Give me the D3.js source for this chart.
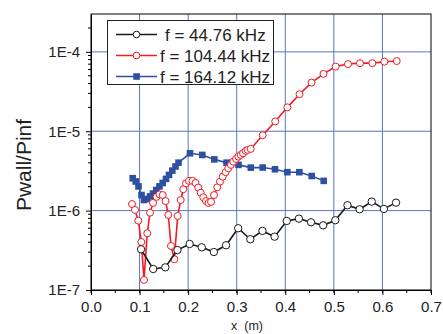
<!DOCTYPE html>
<html>
<head>
<meta charset="utf-8">
<script src="https://cdn.jsdelivr.net/npm/d3@7"></script>
<style>
  html, body { margin: 0; padding: 0; background: #fff; }
  svg { display: block; font-family: "Liberation Sans", Arial, sans-serif; }
</style>
</head>
<body>
<svg id="chart" width="443" height="334"></svg>
<script>
// ---- Data ----
const seriesNames = ["f = 44.76 kHz", "f = 104.44 kHz", "f = 164.12 kHz"];

const xBlack = [0.103, 0.128, 0.153, 0.178, 0.203, 0.228, 0.253, 0.278, 0.303, 0.328, 0.353,
  0.378, 0.403, 0.428, 0.453, 0.478, 0.503, 0.528, 0.553, 0.578, 0.603, 0.628];
const yBlack = [3.26e-7, 1.84e-7, 1.93e-7, 3.19e-7, 3.80e-7, 3.45e-7, 3.01e-7, 3.66e-7, 6.0e-7, 4.36e-7, 5.55e-7,
  4.70e-7, 7.41e-7, 7.92e-7, 7.13e-7, 6.53e-7, 7.57e-7, 1.17e-6, 1.04e-6, 1.30e-6, 1.05e-6, 1.26e-6];

const xRed = [0.0844, 0.0906, 0.0974, 0.1036, 0.1091, 0.1159, 0.1215, 0.1277, 0.1349, 0.1410, 0.1476,
  0.1534, 0.1592, 0.1647, 0.1715, 0.1785, 0.1847, 0.1900, 0.1956, 0.2018, 0.2090, 0.2152, 0.2209,
  0.2259, 0.2312, 0.2368, 0.2419, 0.2471, 0.2532, 0.2600, 0.2656, 0.2712, 0.2773, 0.2827, 0.2882,
  0.2930, 0.2985, 0.3033, 0.3082, 0.3130, 0.3185, 0.3226, 0.3288, 0.3535, 0.3793, 0.4042, 0.4293,
  0.4540, 0.4787, 0.5038, 0.5291, 0.5538, 0.5792, 0.6039, 0.6294];
const yRed = [1.21e-6, 1.02e-6, 7.47e-7, 4.03e-7, 1.34e-7, 5.19e-7, 9.42e-7, 1.25e-6, 1.49e-6, 1.60e-6, 1.57e-6,
  1.32e-6, 8.81e-7, 3.59e-7, 2.44e-7, 8.57e-7, 1.36e-6, 1.86e-6, 2.21e-6, 2.37e-6, 2.37e-6, 2.23e-6, 1.95e-6,
  1.68e-6, 1.47e-6, 1.32e-6, 1.25e-6, 1.29e-6, 1.57e-6, 1.97e-6, 2.32e-6, 2.68e-6, 3.05e-6, 3.42e-6, 3.77e-6,
  4.14e-6, 4.48e-6, 4.79e-6, 5.03e-6, 5.28e-6, 5.65e-6, 5.82e-6, 5.99e-6, 8.91e-6, 1.33e-5, 2.0e-5, 2.93e-5,
  4.10e-5, 5.28e-5, 6.53e-5, 7.02e-5, 7.21e-5, 7.21e-5, 7.52e-5, 7.66e-5];

const xBlue = [0.0859, 0.0920, 0.0978, 0.1040, 0.1091, 0.1153, 0.1215, 0.1277, 0.1344, 0.1410, 0.1476,
  0.1544, 0.1606, 0.1674, 0.1740, 0.1802, 0.2038, 0.2292, 0.2539, 0.2790, 0.3037, 0.3290, 0.3535,
  0.3788, 0.4042, 0.4289, 0.4544, 0.4791];
const yBlue = [2.56e-6, 2.33e-6, 2.02e-6, 1.57e-6, 1.36e-6, 1.40e-6, 1.51e-6, 1.64e-6, 1.82e-6, 2.02e-6, 2.23e-6,
  2.51e-6, 2.82e-6, 3.19e-6, 3.60e-6, 4.02e-6, 5.28e-6, 5.03e-6, 4.42e-6, 4.02e-6, 3.77e-6, 3.48e-6, 3.49e-6,
  3.32e-6, 3.05e-6, 3.05e-6, 2.73e-6, 2.37e-6];

const xTicks = [0.0, 0.1, 0.2, 0.3, 0.4, 0.5, 0.6, 0.7];
const xTickLabels = ["0.0", "0.1", "0.2", "0.3", "0.4", "0.5", "0.6", "0.7"];
const yTicks = [1e-7, 1e-6, 1e-5, 1e-4];
const yTickLabels = ["1E-7", "1E-6", "1E-5", "1E-4"];

// ---- Layout ----
const svg = d3.select("#chart");
const L = 91, R = 431, T = 14, B = 290;
const x = d3.scaleLinear().domain([0, 0.7]).range([L, R]);
const y = d3.scaleLog().domain([1e-7, 3e-4]).range([B, T]);

const gridColor = "#5a74c2";
const colBlack = "#1a1a1a", colRed = "#ee1c24", colBlue = "#2f4fa2";

// grid
svg.append("g").selectAll("line.gx").data(xTicks.slice(1, -1)).join("line")
  .attr("x1", d => x(d)).attr("x2", d => x(d)).attr("y1", T).attr("y2", B)
  .attr("stroke", gridColor).attr("stroke-width", 1);
svg.append("g").selectAll("line.gy").data(yTicks.slice(1)).join("line")
  .attr("x1", L).attr("x2", R).attr("y1", d => y(d)).attr("y2", d => y(d))
  .attr("stroke", gridColor).attr("stroke-width", 1);

// axes
const xMinor = d3.range(0, 0.7001, 0.05);
const xAxis = d3.axisBottom(x).tickValues(xTicks).tickFormat((d, i) => xTickLabels[i]).tickSize(5).tickSizeOuter(0);
const gx = svg.append("g").attr("transform", `translate(0,${B})`).call(xAxis);
gx.selectAll("text").attr("font-size", 15).attr("fill", "#222").attr("dy", "0.95em");
gx.append("g").selectAll("line").data(xMinor).join("line")
  .attr("x1", d => x(d)).attr("x2", d => x(d)).attr("y1", 0).attr("y2", 3).attr("stroke", "#000");

const yMinor = [];
[1e-7, 1e-6, 1e-5, 1e-4].forEach(dec => { for (let k = 2; k <= 9; k++) { const v = dec * k; if (v <= 3e-4) yMinor.push(v); } });
const yAxis = d3.axisLeft(y).tickValues(yTicks).tickFormat((d, i) => yTickLabels[i]).tickSize(5).tickSizeOuter(0);
const gy = svg.append("g").attr("transform", `translate(${L},0)`).call(yAxis);
gy.selectAll("text").attr("font-size", 15).attr("fill", "#222").attr("x", -11);
gy.append("g").selectAll("line").data(yMinor).join("line")
  .attr("x1", -3).attr("x2", 0).attr("y1", d => y(d)).attr("y2", d => y(d)).attr("stroke", "#000");
svg.selectAll(".domain").attr("stroke", "#000");

// frame
svg.append("rect").attr("x", L).attr("y", T).attr("width", R - L).attr("height", B - T)
  .attr("fill", "none").attr("stroke", "#000").attr("stroke-width", 1);

// axis titles
svg.append("text").attr("transform", `translate(31,165) rotate(-90)`).attr("text-anchor", "middle")
  .attr("font-size", 21).attr("fill", "#222").text("Pwall/Pinf");
svg.append("text").attr("x", 247).attr("y", 330).attr("text-anchor", "middle")
  .attr("font-size", 12.5).attr("fill", "#222").attr("xml:space", "preserve").text("x  (m)");

// series
const line = d3.line().x(d => x(d[0])).y(d => y(d[1]));
const blueData = d3.zip(xBlue, yBlue);
const redData = d3.zip(xRed, yRed);
const blackData = d3.zip(xBlack, yBlack);

svg.append("path").datum(blueData).attr("d", line).attr("fill", "none").attr("stroke", colBlue).attr("stroke-width", 1.6);
svg.append("g").selectAll("rect").data(blueData).join("rect")
  .attr("x", d => x(d[0]) - 3.3).attr("y", d => y(d[1]) - 3.3).attr("width", 6.6).attr("height", 6.6)
  .attr("fill", colBlue);

svg.append("path").datum(redData).attr("d", line).attr("fill", "none").attr("stroke", colRed).attr("stroke-width", 1.6);
svg.append("g").selectAll("circle").data(redData).join("circle")
  .attr("cx", d => x(d[0])).attr("cy", d => y(d[1])).attr("r", 3.5)
  .attr("fill", "#fff").attr("stroke", colRed).attr("stroke-width", 1);

svg.append("path").datum(blackData).attr("d", line).attr("fill", "none").attr("stroke", colBlack).attr("stroke-width", 1.6);
svg.append("g").selectAll("circle").data(blackData).join("circle")
  .attr("cx", d => x(d[0])).attr("cy", d => y(d[1])).attr("r", 3.7)
  .attr("fill", "#fff").attr("stroke", colBlack).attr("stroke-width", 1);

// legend
const lg = svg.append("g");
lg.append("rect").attr("x", 107.5).attr("y", 20.5).attr("width", 166).attr("height", 64)
  .attr("fill", "#fff").attr("stroke", "#222").attr("stroke-width", 1);
const legendItems = [
  { name: seriesNames[0], color: colBlack, marker: "circle", tx: 165 },
  { name: seriesNames[1], color: colRed, marker: "circle", tx: 160 },
  { name: seriesNames[2], color: colBlue, marker: "square", tx: 160 }
];
legendItems.forEach((it, i) => {
  const cy = 34.5 + i * 21;
  lg.append("line").attr("x1", 116).attr("x2", 157).attr("y1", cy).attr("y2", cy)
    .attr("stroke", it.color).attr("stroke-width", 1.6);
  if (it.marker === "circle") {
    lg.append("circle").attr("cx", 136.5).attr("cy", cy).attr("r", 3.3)
      .attr("fill", "#fff").attr("stroke", it.color).attr("stroke-width", 1);
  } else {
    lg.append("rect").attr("x", 133.3).attr("y", cy - 3.3).attr("width", 6.6).attr("height", 6.6).attr("fill", it.color);
  }
  lg.append("text").attr("x", it.tx).attr("y", cy).attr("dy", "0.36em").attr("font-size", 17)
    .attr("fill", "#222").text(it.name);
});
</script>
</body>
</html>
